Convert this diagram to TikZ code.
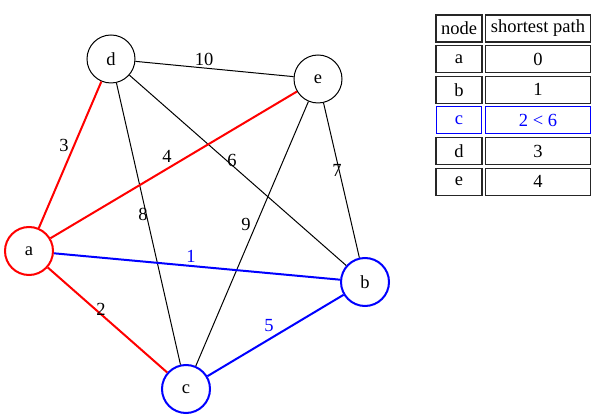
\documentclass[tikz,border=0pt]{standalone}
\usepackage{fontspec}
\setmainfont{Liberation Serif}
\begin{document}
\begin{tikzpicture}[x=1pt,y=-1pt,
  txt/.style={font=\fontsize{18.5}{20}\selectfont},
  vertex/.style={circle,draw=black,line width=1pt,minimum size=48pt,inner sep=0pt,txt},
  redv/.style={vertex,draw=red,line width=2pt},
  bluev/.style={vertex,draw=blue,line width=2pt},
  plain/.style={draw=black,line width=1pt},
  redge/.style={draw=red,line width=2pt},
  bedge/.style={draw=blue,line width=2pt},
  wlabel/.style={txt,inner sep=1pt},
  cell/.style={draw=black!85,line width=1.3pt,inner sep=0pt,minimum height=27pt,txt},
  keycell/.style={cell,minimum width=45.8pt},
  valcell/.style={cell,minimum width=105.3pt}]
  \useasboundingbox (0,0) rectangle (611,419);

  % vertices
  \node[vertex] (d) at (111,59) {d};
  \node[vertex] (e) at (318,79) {e};
  \node[redv]   (a) at (29,251) {a};
  \node[bluev]  (b) at (365,282) {b};
  \node[bluev]  (c) at (186,389) {c};

  % edges
  \draw[plain] (d) -- (e);
  \draw[plain] (d) -- (c);
  \draw[plain] (d) -- (b);
  \draw[plain] (e) -- (c);
  \draw[plain] (e) -- (b);
  \draw[redge] (a) -- (d);
  \draw[redge] (a) -- (e);
  \draw[redge] (a) -- (c);
  \draw[bedge] (a) -- (b);
  \draw[bedge] (c) -- (b);

  % edge weights
  \node[wlabel] (w1) at (204,59) {10};
  \node[wlabel] (w2) at (64,145) {3};
  \node[wlabel] (w3) at (167,156) {4};
  \node[wlabel] (w4) at (232,160) {6};
  \node[wlabel] (w5) at (337,170) {7};
  \node[wlabel] (w6) at (143,214) {8};
  \node[wlabel] (w7) at (246,224) {9};
  \node[wlabel,text=blue] (w8) at (191,256) {1};
  \node[wlabel] (w9) at (101,309) {2};
  \node[wlabel,text=blue] (w10) at (269,326) {5};

  % distance table
  \node[keycell] (h1) at (459,28.4) {node};
  \node[valcell] (h2) at (538,28.4) {shortest path};
  \foreach \n/\v/\y in {a/0/59, b/1/89.7, d/3/151, e/4/181.7}{
    \node[keycell] (n\n) at (459,\y) {\n};
    \node[valcell] (v\n) at (538,\y) {\v};
  }
  \node[keycell,draw=blue,line width=1.1pt,text=blue] (nc) at (459,120.3) {c};
  \node[valcell,draw=blue,line width=1.1pt,text=blue] (vc) at (538,120.3) {2 < 6};
\end{tikzpicture}
\end{document}
